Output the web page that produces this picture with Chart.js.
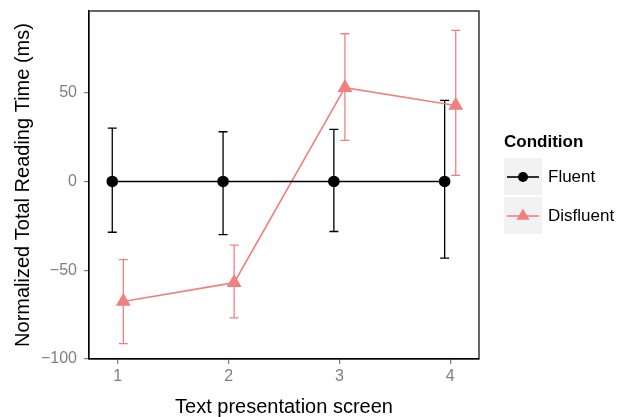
<!DOCTYPE html>
<html>
<head>
<meta charset="utf-8">
<script src="https://cdn.jsdelivr.net/npm/chart.js@4/dist/chart.umd.min.js"></script>
<style>
  html, body { margin: 0; padding: 0; background: #fff; }
  #wrap { width: 623px; height: 417px; }
</style>
</head>
<body>
<div id="wrap"><canvas id="c" width="623" height="417"></canvas></div>
<script>
// data
const screens = [1, 2, 3, 4];
const xTickLabels = ["1", "2", "3", "4"];
const yTicks = [-100, -50, 0, 50];
const fluentMean = [0, 0, 0, 0];
const fluentLow = [-28.6, -29.9, -28.2, -43.2];
const fluentHigh = [30.0, 28.0, 29.3, 45.7];
const disfluentMean = [-67.6, -57.0, 52.8, 42.8];
const disfluentLow = [-91.3, -76.8, 23.1, 3.4];
const disfluentHigh = [-44.0, -35.9, 83.2, 85.1];

const DODGE = 0.05;
const PINK = "#F08080";
const GREY = "#7f7f7f";
const FONT = "'Liberation Sans', Arial, Helvetica, sans-serif";

const fluentPts = screens.map((s, i) => ({ x: s - DODGE, y: fluentMean[i], lo: fluentLow[i], hi: fluentHigh[i] }));
const disfluentPts = screens.map((s, i) => ({ x: s + DODGE, y: disfluentMean[i], lo: disfluentLow[i], hi: disfluentHigh[i] }));

// error bars under the points + panel border
const errorBars = {
  id: "errorBars",
  beforeDatasetsDraw(chart) {
    const { ctx, scales: { x, y } } = chart;
    chart.data.datasets.forEach(ds => {
      ctx.save();
      ctx.strokeStyle = ds.borderColor;
      ctx.lineWidth = 1.3;
      ds.data.forEach(p => {
        const px = x.getPixelForValue(p.x);
        const top = y.getPixelForValue(p.hi);
        const bot = y.getPixelForValue(p.lo);
        ctx.beginPath();
        ctx.moveTo(px, top); ctx.lineTo(px, bot);
        ctx.moveTo(px - 4.5, top); ctx.lineTo(px + 4.5, top);
        ctx.moveTo(px - 4.5, bot); ctx.lineTo(px + 4.5, bot);
        ctx.stroke();
      });
      ctx.restore();
    });
  },
  afterDraw(chart) {
    const { ctx, chartArea: a } = chart;
    ctx.save();
    ctx.strokeStyle = "#000";
    ctx.lineWidth = 1.2;
    ctx.strokeRect(a.left, a.top, a.right - a.left, a.bottom - a.top);
    ctx.restore();
  }
};

// ggplot-like legend on the right
const sideLegend = {
  id: "sideLegend",
  afterDraw(chart) {
    const { ctx } = chart;
    const left = 504;
    ctx.save();
    ctx.fillStyle = "#000";
    ctx.font = "bold 17px " + FONT;
    ctx.textBaseline = "middle";
    ctx.fillText("Condition", left, 142);
    chart.data.datasets.forEach((ds, i) => {
      const top = 158 + i * 39;
      ctx.fillStyle = "#f2f2f2";
      ctx.fillRect(left, top, 38, 37);
      const cy = top + 19;
      ctx.strokeStyle = ds.borderColor;
      ctx.lineWidth = 1.6;
      ctx.beginPath();
      ctx.moveTo(left + 3, cy); ctx.lineTo(left + 35, cy);
      ctx.stroke();
      ctx.fillStyle = ds.pointBackgroundColor;
      ctx.beginPath();
      if (ds.pointStyle === "triangle") {
        const r = 7.5;
        ctx.moveTo(left + 19, cy - r);
        ctx.lineTo(left + 19 + r * 0.866, cy + r * 0.5);
        ctx.lineTo(left + 19 - r * 0.866, cy + r * 0.5);
        ctx.closePath();
      } else {
        ctx.arc(left + 19, cy, 5, 0, Math.PI * 2);
      }
      ctx.fill();
      ctx.fillStyle = "#000";
      ctx.font = "17px " + FONT;
      ctx.fillText(ds.label, left + 44, cy);
    });
    ctx.restore();
  }
};

new Chart(document.getElementById("c"), {
  type: "line",
  data: {
    datasets: [
      {
        label: "Fluent",
        data: fluentPts,
        borderColor: "#000",
        backgroundColor: "#000",
        pointBackgroundColor: "#000",
        pointBorderColor: "#000",
        pointStyle: "circle",
        pointRadius: 5,
        borderWidth: 1.6,
        tension: 0
      },
      {
        label: "Disfluent",
        data: disfluentPts,
        borderColor: PINK,
        backgroundColor: PINK,
        pointBackgroundColor: PINK,
        pointBorderColor: PINK,
        pointStyle: "triangle",
        pointRadius: 7,
        borderWidth: 1.6,
        tension: 0
      }
    ]
  },
  options: {
    responsive: false,
    animation: false,
    events: [],
    layout: { padding: { left: 0, top: 11, right: 144, bottom: 0 } },
    plugins: { legend: { display: false }, tooltip: { enabled: false } },
    scales: {
      x: {
        type: "linear",
        min: 0.74,
        max: 4.26,
        afterFit(s) { s.height = 58; s.paddingLeft = 0; s.paddingRight = 0; },
        afterBuildTicks(s) { s.ticks = screens.map(v => ({ value: v })); },
        grid: { drawOnChartArea: false, drawTicks: true, tickLength: 5, color: GREY, lineWidth: 1.2 },
        border: { display: true, color: "#000", width: 1.2 },
        ticks: {
          color: GREY,
          font: { family: FONT, size: 16 },
          padding: 3,
          callback: (v) => xTickLabels[screens.indexOf(v)] ?? ""
        },
        title: {
          display: true,
          text: "Text presentation screen",
          color: "#000",
          font: { family: FONT, size: 20 },
          padding: { top: 6, bottom: -2 }
        }
      },
      y: {
        type: "linear",
        min: -100,
        max: 96,
        afterFit(s) { s.width = 89; s.paddingTop = 0; s.paddingBottom = 0; },
        afterBuildTicks(s) { s.ticks = yTicks.map(v => ({ value: v })); },
        grid: { drawOnChartArea: false, drawTicks: true, tickLength: 5, color: GREY, lineWidth: 1.2 },
        border: { display: true, color: "#000", width: 1.2 },
        ticks: {
          color: GREY,
          font: { family: FONT, size: 16 },
          padding: 7,
          callback: (v) => String(v).replace("-", "\u2212")
        },
        title: {
          display: true,
          text: "Normalized Total Reading Time (ms)",
          color: "#000",
          font: { family: FONT, size: 20 },
          padding: { top: 11, bottom: 0 }
        }
      }
    }
  },
  plugins: [errorBars, sideLegend]
});
</script>
</body>
</html>
